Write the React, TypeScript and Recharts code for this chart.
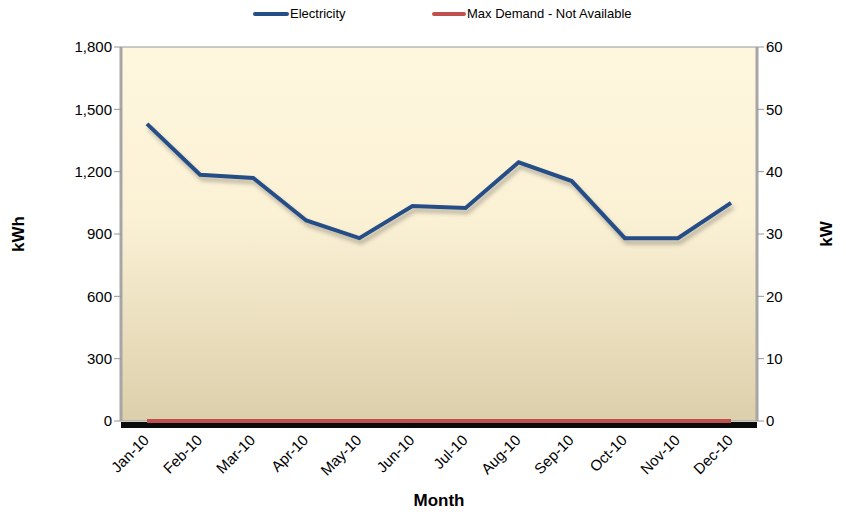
import { CartesianGrid, Line, LineChart, XAxis, YAxis, Label, ReferenceLine } from 'recharts'

const months = ['Jan-10', 'Feb-10', 'Mar-10', 'Apr-10', 'May-10', 'Jun-10', 'Jul-10', 'Aug-10', 'Sep-10', 'Oct-10', 'Nov-10', 'Dec-10']
const electricity = [1430, 1185, 1170, 965, 880, 1035, 1025, 1245, 1155, 880, 880, 1050]
const maxDemand = [0, 0, 0, 0, 0, 0, 0, 0, 0, 0, 0, 0]
const kwhTicks = [0, 300, 600, 900, 1200, 1500, 1800]
const kwTicks = [0, 10, 20, 30, 40, 50, 60]

const data = months.map((m, i) => ({ month: m, kwh: electricity[i], kw: maxDemand[i] }))

const font = '"Liberation Sans", Arial, sans-serif'

function MonthTick({ x, y, payload }: any) {
  const tx = x + 3
  const ty = y + 12
  return (
    <text x={tx} y={ty} textAnchor="end" fontSize={15} fill="#000" fontFamily={font} transform={`rotate(-45 ${tx} ${ty})`}>
      {payload.value}
    </text>
  )
}

// black "floor" drawn just under the zero line
function Floor({ x1, x2, y1 }: any) {
  return <rect x={x1} y={y1 + 1} width={x2 - x1} height={6} fill="#0a0a0a" />
}

function Legend() {
  return (
    <div style={{ position: 'absolute', top: 6, left: 0, width: 846, fontFamily: font, fontSize: 13 }}>
      <div style={{ position: 'absolute', left: 253, top: 0, display: 'flex', alignItems: 'center' }}>
        <span style={{ width: 36, height: 4, background: '#254e86', borderRadius: 2, display: 'inline-block' }} />
        <span style={{ marginLeft: 1 }}>Electricity</span>
      </div>
      <div style={{ position: 'absolute', left: 432, top: 0, display: 'flex', alignItems: 'center' }}>
        <span style={{ width: 34, height: 4, background: '#c0504d', borderRadius: 2, display: 'inline-block' }} />
        <span style={{ marginLeft: 1 }}>Max Demand - Not Available</span>
      </div>
    </div>
  )
}

export default function App() {
  return (
    <div style={{ position: 'absolute', top: 0, left: 0, width: 846, height: 512, background: '#fff' }}>
      <Legend />
      <LineChart
        width={846}
        height={512}
        data={data}
        margin={{ top: 47, right: 0, bottom: 0, left: 0 }}
        style={{ fontFamily: font }}
      >
        <defs>
          <linearGradient id="wall" x1="0" y1="0" x2="0" y2="1">
            <stop offset="0%" stopColor="#fef7de" />
            <stop offset="45%" stopColor="#fbf1d5" />
            <stop offset="100%" stopColor="#dccfab" />
          </linearGradient>
          <filter id="shadow" x="-10%" y="-10%" width="120%" height="130%">
            <feDropShadow dx="2" dy="4" stdDeviation="2" floodColor="#000" floodOpacity="0.28" />
          </filter>
        </defs>
        <CartesianGrid vertical={false} stroke="#969696" fill="url(#wall)" strokeWidth={1} />
        <XAxis
          dataKey="month"
          height={91}
          tick={<MonthTick />}
          tickLine={false}
          axisLine={false}
          interval={0}
          padding={{ left: 26, right: 26 }}
        >
          <Label value="Month" position="insideBottom" offset={6} style={{ fontSize: 17, fontWeight: 'bold', fill: '#000', fontFamily: font }} />
        </XAxis>
        <YAxis
          yAxisId="left"
          width={121}
          domain={[0, 1800]}
          ticks={kwhTicks}
          tickFormatter={(v: number) => v.toLocaleString('en-US')}
          tick={{ fontSize: 15, fill: '#000', fontFamily: font }}
          tickLine={{ stroke: '#969696' }}
          tickSize={7}
          axisLine={{ stroke: '#a6a6a6', strokeWidth: 3 }}
        >
          <Label value="kWh" angle={-90} position="insideLeft" offset={18} style={{ fontSize: 17, fontWeight: 'bold', fill: '#000', fontFamily: font, textAnchor: 'middle' }} />
        </YAxis>
        <YAxis
          yAxisId="right"
          orientation="right"
          width={89}
          domain={[0, 60]}
          ticks={kwTicks}
          tick={{ fontSize: 15, fill: '#000', fontFamily: font }}
          tickLine={{ stroke: '#969696' }}
          tickSize={7}
          axisLine={{ stroke: '#a6a6a6', strokeWidth: 3 }}
        >
          <Label value="kW" angle={-90} position="insideRight" offset={20} style={{ fontSize: 17, fontWeight: 'bold', fill: '#000', fontFamily: font, textAnchor: 'middle' }} />
        </YAxis>
        <ReferenceLine yAxisId="left" y={0} shape={<Floor />} />
        <Line yAxisId="right" dataKey="kw" stroke="#c0504d" strokeWidth={4} dot={false} isAnimationActive={false} />
        <Line
          yAxisId="left"
          dataKey="kwh"
          stroke="#254e86"
          strokeWidth={4}
          dot={false}
          filter="url(#shadow)"
          isAnimationActive={false}
        />
      </LineChart>
    </div>
  )
}
